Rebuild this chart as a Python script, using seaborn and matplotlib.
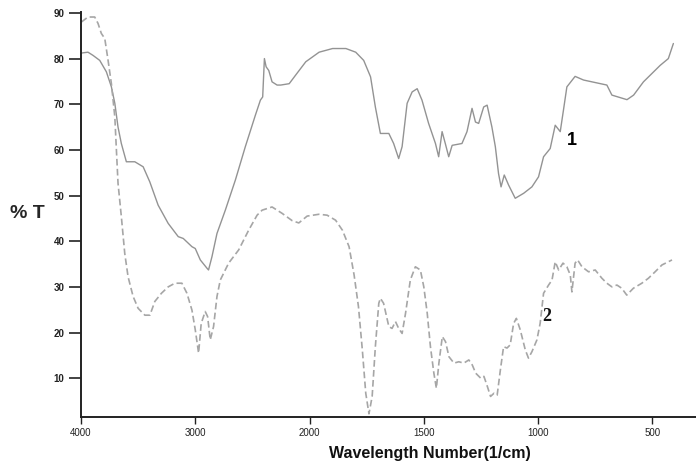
import numpy as np
import pandas as pd
import matplotlib
matplotlib.use("Agg")
import matplotlib.pyplot as plt
import seaborn as sns

# ---- data ----
wn1 = [4000, 3939, 3895, 3836, 3778, 3734, 3704, 3676, 3647, 3603, 3529, 3456, 3398, 3325,
       3237, 3149, 3105, 3029, 3000, 2956, 2898, 2884, 2854, 2810, 2737, 2649, 2562, 2474,
       2430, 2410, 2395, 2380, 2357, 2328, 2284, 2252, 2178, 2121, 2033, 1958, 1899, 1841,
       1798, 1763, 1733, 1712, 1690, 1653, 1632, 1610, 1595, 1573, 1551, 1529, 1508, 1479,
       1449, 1435, 1420, 1406, 1391, 1376, 1333, 1311, 1289, 1274, 1260, 1238, 1223, 1202,
       1187, 1173, 1162, 1148, 1129, 1100, 1063, 1027, 998, 976, 947, 925, 903, 889, 874,
       838, 801, 699, 677, 611, 582, 539, 466, 430, 408]
t1 = [81.2, 81.4, 80.7, 79.6, 77.1, 73.8, 70.2, 65.0, 61.4, 57.4, 57.4, 56.3, 53.0, 47.9,
      43.9, 41.0, 40.6, 38.8, 38.4, 35.9, 34.1, 33.7, 36.6, 41.7, 46.8, 53.4, 60.7, 67.6,
      70.9, 71.6, 80.0, 78.2, 77.4, 74.9, 74.2, 74.2, 74.5, 76.4, 79.3, 81.4, 82.2, 82.2,
      81.4, 79.6, 76.0, 69.4, 63.6, 63.6, 61.4, 58.1, 60.7, 70.2, 72.7, 73.4, 70.9, 65.8,
      61.4, 58.5, 64.0, 61.4, 58.5, 61.0, 61.4, 64.0, 69.1, 66.1, 65.8, 69.4, 69.8, 65.0,
      60.7, 54.8, 51.9, 54.5, 52.3, 49.4, 50.5, 51.9, 54.1, 58.5, 60.3, 65.4, 64.0, 68.7, 73.8,
      76.1, 75.3, 74.2, 72.0, 71.0, 72.0, 74.9, 78.5, 80.0, 83.3]

wn2 = [3997, 3939, 3880, 3851, 3822, 3792, 3763, 3734, 3704, 3690, 3676, 3647, 3617, 3588,
       3544, 3500, 3441, 3397, 3354, 3296, 3237, 3178, 3117, 3073, 3029, 3000, 2971, 2948,
       2913, 2892, 2869, 2840, 2810, 2781, 2708, 2620, 2533, 2459, 2415, 2328, 2240, 2152,
       2094, 2021, 1959, 1923, 1886, 1856, 1827, 1805, 1786, 1769, 1754, 1740, 1726, 1712,
       1697, 1690, 1676, 1653, 1639, 1624, 1610, 1595, 1580, 1559, 1537, 1515, 1500, 1485,
       1471, 1456, 1445, 1434, 1419, 1405, 1390, 1368, 1347, 1325, 1303, 1288, 1273, 1251,
       1237, 1222, 1208, 1193, 1179, 1165, 1151, 1136, 1122, 1107, 1095, 1078, 1056, 1042,
       1027, 1005, 991, 976, 954, 939, 925, 910, 891, 874, 859, 852, 838, 827, 808, 779, 750,
       721, 699, 677, 655, 634, 612, 583, 546, 517, 488, 458, 414]
t2 = [88.0, 89.1, 89.1, 87.7, 85.5, 84.4, 79.6, 74.5, 67.2, 59.9, 52.7, 45.4, 37.3, 32.2,
      27.9, 25.3, 23.8, 23.8, 26.8, 28.6, 30.0, 30.8, 30.8, 28.6, 24.9, 20.6, 15.5, 22.0,
      24.6, 23.5, 18.4, 21.3, 27.9, 31.5, 35.2, 38.1, 42.4, 45.7, 46.8, 47.5, 46.1, 44.5,
      44.0, 45.5, 45.9, 45.7, 44.6, 42.4, 38.8, 32.6, 25.7, 16.2, 6.7, 2.2, 6.0, 16.9,
      26.4, 27.5, 26.4, 21.3, 20.9, 22.4, 20.9, 19.8, 24.2, 31.5, 34.4, 33.7, 30.0, 24.2,
      16.9, 11.1, 7.8, 13.3, 19.1, 18.0, 14.7, 13.3, 13.6, 13.3, 14.0, 12.9, 11.1, 10.0,
      10.4, 8.2, 6.0, 6.7, 6.3, 11.8, 16.9, 16.6, 17.3, 22.0, 23.1, 20.6, 16.2, 14.4,
      15.8, 18.4, 22.0, 28.6, 30.4, 31.5, 35.5, 33.7, 35.2, 34.4, 32.6, 28.9, 35.2, 35.9, 34.4,
      33.3, 33.7, 31.9, 30.8, 30.0, 30.4, 29.7, 28.2, 29.7, 30.8, 31.9, 33.3, 34.8, 35.9]

x_ticks = [4000, 3000, 2000, 1500, 1000, 500]
y_ticks = [10, 20, 30, 40, 50, 60, 70, 80, 90]
curve_labels = ["1", "2"]

df1 = pd.DataFrame({"wn": wn1, "T": t1})
df2 = pd.DataFrame({"wn": wn2, "T": t2})

sns.set_style("ticks")
plt.rcParams["font.family"] = ["Liberation Sans", "DejaVu Sans"]

W, H = 696, 463
fig = plt.figure(figsize=(W / 100, H / 100), dpi=100)
ax = fig.add_axes([81 / W, (H - 417) / H, (W - 81) / W, (417 - 12) / H])

sns.lineplot(data=df1, x="wn", y="T", sort=False, estimator=None, ax=ax,
             color="#939393", linewidth=1.0)
sns.lineplot(data=df2, x="wn", y="T", sort=False, estimator=None, ax=ax,
             color="#a6a6a6", linewidth=1.2, linestyle=(0, (4, 2)))


def fwd(x):
    x = np.asarray(x, dtype=float)
    return np.where(x >= 2000, 1000 + x / 2.0, x)


def inv(y):
    y = np.asarray(y, dtype=float)
    return np.where(y >= 2000, 2.0 * (y - 1000), y)


ax.set_xscale("function", functions=(fwd, inv))
ax.set_xlim(4000, 309)
ax.set_ylim(1.5, 90.2)
ax.set_xticks(x_ticks)
ax.set_xticklabels([str(v) for v in x_ticks])
ax.set_yticks(y_ticks)
ax.set_yticklabels([str(v) for v in y_ticks], fontweight="bold")
ax.minorticks_off()
ax.tick_params(axis="y", length=9, width=1.2, pad=3, labelsize=7, colors="#222222")
ax.tick_params(axis="x", length=5, width=1.0, pad=3, labelsize=7, colors="#222222")
ax.set_xlabel("")
ax.set_ylabel("")
sns.despine(ax=ax)
for s in ["left", "bottom"]:
    ax.spines[s].set_linewidth(1.4)
    ax.spines[s].set_color("#222222")

ax.text(875, 62, curve_labels[0], fontsize=13, fontweight="bold", color="black",
        ha="left", va="center")
ax.text(980, 23.5, curve_labels[1], fontsize=13, fontweight="bold", color="#111111",
        ha="left", va="center", family=["Liberation Serif", "DejaVu Serif"])

fig.text(10 / W, (H - 213) / H, "% T", fontsize=14, fontweight="bold", ha="left", va="center")
fig.text(430 / W, (H - 458) / H, "Wavelength Number(1/cm)", fontsize=11.5,
         fontweight="bold", ha="center", va="baseline", color="#111111")

fig.savefig("out.png", dpi=100)
